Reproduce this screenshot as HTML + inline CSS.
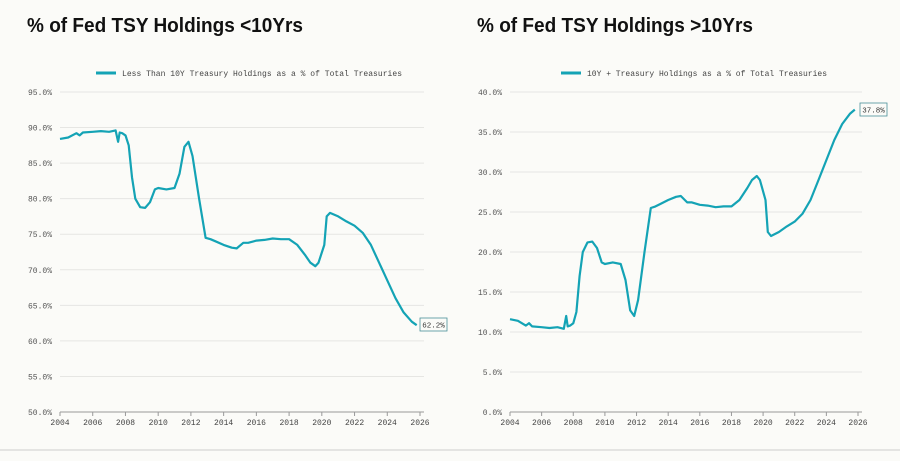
<!DOCTYPE html>
<html><head><meta charset="utf-8"><style>
html,body{margin:0;padding:0;background:#fbfbf8;}
svg{display:block}
</style></head><body>
<svg id="s" width="900" height="461" xmlns="http://www.w3.org/2000/svg" font-family="Liberation Mono, monospace">
<rect width="900" height="461" fill="#fbfbf8"/>
<text x="27" y="32" font-family="Liberation Sans, sans-serif" font-weight="bold" font-size="20" fill="#111" textLength="276" lengthAdjust="spacingAndGlyphs">% of Fed TSY Holdings &lt;10Yrs</text>
<text x="477" y="32" font-family="Liberation Sans, sans-serif" font-weight="bold" font-size="20" fill="#111" textLength="276" lengthAdjust="spacingAndGlyphs">% of Fed TSY Holdings &gt;10Yrs</text>
<line x1="96" y1="73" x2="116" y2="73" stroke="#14a3b5" stroke-width="3"/>
<text x="122" y="76" font-size="8" fill="#444" textLength="280" lengthAdjust="spacing">Less Than 10Y Treasury Holdings as a % of Total Treasuries</text>
<line x1="561" y1="73" x2="581" y2="73" stroke="#14a3b5" stroke-width="3"/>
<text x="587" y="76" font-size="8" fill="#444" textLength="240" lengthAdjust="spacing">10Y + Treasury Holdings as a % of Total Treasuries</text>
<g id="g"></g>
<line x1="0" y1="450" x2="900" y2="450" stroke="#ccc" stroke-width="1"/>
</svg>
<script>
var d=[[2004,88.4],[2004.5,88.6],[2005,89.2],[2005.2,88.9],[2005.4,89.3],[2006,89.4],[2006.5,89.5],[2007,89.4],[2007.4,89.6],[2007.55,88],[2007.65,89.3],[2007.8,89.2],[2008,88.9],[2008.2,87.5],[2008.4,83],[2008.6,80],[2008.9,78.8],[2009.2,78.7],[2009.5,79.5],[2009.8,81.3],[2010,81.5],[2010.5,81.3],[2011,81.5],[2011.3,83.5],[2011.6,87.3],[2011.85,88],[2012.1,86],[2012.5,80],[2012.9,74.5],[2013.2,74.3],[2013.5,74],[2014,73.5],[2014.5,73.1],[2014.8,73],[2015.2,73.8],[2015.5,73.8],[2016,74.1],[2016.5,74.2],[2017,74.4],[2017.5,74.3],[2018,74.3],[2018.5,73.5],[2019,72],[2019.3,71],[2019.6,70.5],[2019.8,71],[2020.15,73.5],[2020.3,77.5],[2020.5,78],[2021,77.5],[2021.5,76.8],[2022,76.2],[2022.5,75.2],[2023,73.5],[2023.5,71],[2024,68.5],[2024.5,66],[2025,64],[2025.5,62.7],[2025.8,62.2]];
var g=document.getElementById('g'),h='';
function chart(x0,x1,ymin,ymax,yTop,yBot,step,f,lab,lx,ly){
 var sx=(x1-x0)/22;
 for(var v=ymin;v<=ymax+0.01;v+=step){var y=yBot-(v-ymin)/(ymax-ymin)*(yBot-yTop);
  h+='<line x1="'+x0+'" x2="'+(x1+4)+'" y1="'+y+'" y2="'+y+'" stroke="#e6e6e3" stroke-width="1"/>';
  h+='<text x="'+(x0-8)+'" y="'+(y+3)+'" font-size="8" fill="#555" text-anchor="end">'+v.toFixed(1)+'%</text>';}
 h+='<line x1="'+x0+'" x2="'+(x1+4)+'" y1="'+yBot+'" y2="'+yBot+'" stroke="#999"/>';
 for(var yr=2004;yr<=2026;yr+=2){var x=x0+(yr-2004)*sx;
  h+='<line x1="'+x+'" x2="'+x+'" y1="'+yBot+'" y2="'+(yBot+4)+'" stroke="#999"/>';
  h+='<text x="'+x+'" y="'+(yBot+13)+'" font-size="8" fill="#444" text-anchor="middle">'+yr+'</text>';}
 var p='';d.forEach(function(q,i){var v=f(q[1]);var x=x0+(q[0]-2004)*sx,y=yBot-(v-ymin)/(ymax-ymin)*(yBot-yTop);p+=(i?'L':'M')+x.toFixed(1)+' '+y.toFixed(1);});
 h+='<path d="'+p+'" fill="none" stroke="#14a3b5" stroke-width="2.2" stroke-linejoin="round"/>';
 h+='<rect x="'+lx+'" y="'+ly+'" width="27" height="13" fill="#fbfbf8" stroke="#4a8f98" stroke-width="0.8"/>';
 h+='<text x="'+(lx+13.5)+'" y="'+(ly+9.5)+'" font-size="7.5" fill="#333" text-anchor="middle">'+lab+'</text>';
}
chart(60,420,50,95,92,412,5,function(v){return v},'62.2%',420,318);
chart(510,858,0,40,92,412,5,function(v){return 100-v},'37.8%',860,103);
g.innerHTML=h;
</script>
</body></html>
